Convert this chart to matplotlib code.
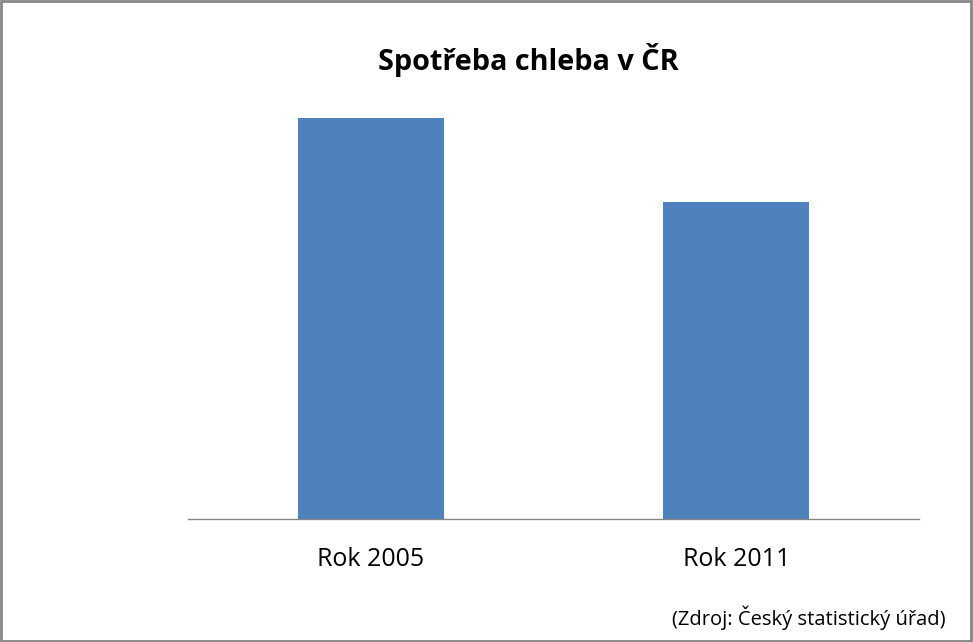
import matplotlib.pyplot as plt
from matplotlib.patches import Rectangle

# data (kg per person)
categories = ['Rok 2005', 'Rok 2011']
values = [50.6, 40.0]

plt.rcParams['font.family'] = ['Open Sans', 'DejaVu Sans']

W, H = 973, 642
fig = plt.figure(figsize=(W / 100, H / 100), dpi=100)

# plot area
ax = fig.add_axes([188 / W, (H - 519) / H, 731 / W, 436 / H])
ax.bar(range(len(categories)), values, width=0.4, color='#4F81BD')
ax.set_xlim(-0.5, 1.5)
ax.set_ylim(0, 55)
ax.set_xticks(range(len(categories)))
ax.set_xticklabels(categories, fontsize=18)
ax.tick_params(axis='x', length=0, pad=20)
ax.set_yticks([])
for s in ['top', 'right', 'left']:
    ax.spines[s].set_visible(False)
ax.spines['bottom'].set_color('#868686')
ax.spines['bottom'].set_linewidth(1)

fig.text(528 / W, 1 - 70 / H, 'Spotřeba chleba v ČR', ha='center', va='baseline',
         fontsize=20.8, fontweight='bold')
fig.text(946 / W, 1 - 625 / H, '(Zdroj: Český statistický úřad)', ha='right',
         va='baseline', fontsize=14.5)

# outer frame
fig.patches.append(Rectangle((0.001, 0.002), 0.997, 0.996, transform=fig.transFigure,
                             fill=False, edgecolor='#868686', linewidth=2))

fig.savefig('out.png', dpi=100)
